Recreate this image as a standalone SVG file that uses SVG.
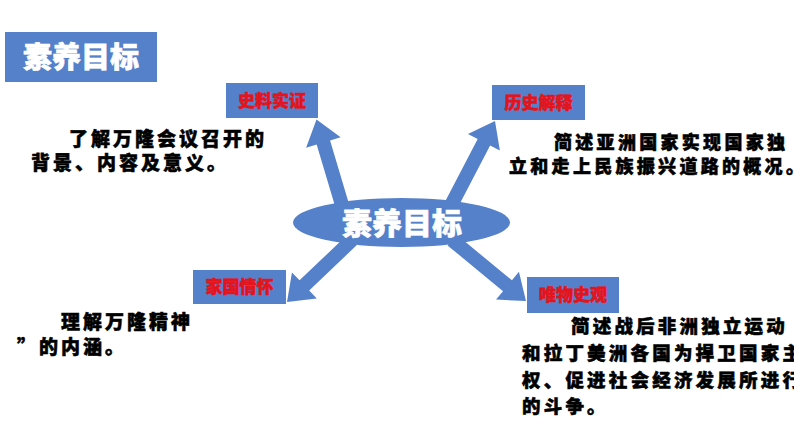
<svg xmlns="http://www.w3.org/2000/svg" width="794" height="447" viewBox="0 0 794 447">
<style>
.blue{fill:#5580CA}
.lbl{font-family:"Noto Sans CJK SC","Noto Sans",sans-serif;font-weight:900;font-size:17px;fill:#E3141B;stroke:#E3141B;stroke-width:0.5px;text-anchor:middle}
.big{font-family:"Noto Sans CJK SC","Noto Sans",sans-serif;font-weight:900;fill:#FFFFFF;stroke:#FFFFFF;stroke-width:0.6px;text-anchor:middle}
.body{font-family:"Noto Sans CJK SC","Noto Sans",sans-serif;font-weight:900;fill:#000000;stroke:#000000;stroke-width:0.55px}
</style>
<rect width="794" height="447" fill="#FFFFFF"/>
<g id="title">
<rect class="blue" x="5" y="32" width="152" height="50"/>
<text class="big" x="81" y="68" font-size="29">素养目标</text>
</g>
<g id="connectors">
<polygon class="blue" points="351.71,213.00 330.07,140.50 340.61,137.35 316.5,119.5 306.11,147.65 316.65,144.50 338.29,217.00"/>
<polygon class="blue" points="452.21,218.24 490.11,145.52 499.86,150.60 495,121 467.94,133.96 477.69,139.05 439.79,211.76"/>
<polygon class="blue" points="347.17,234.94 299.54,280.37 291.95,272.42 287,302 316.79,298.46 309.20,290.51 356.83,245.07"/>
<polygon class="blue" points="447.55,245.40 503.03,291.13 496.03,299.62 526,301 518.93,271.84 511.93,280.33 456.45,234.60"/>
</g>
<g id="center">
<ellipse class="blue" cx="401.5" cy="222.5" rx="108.5" ry="24.5"/>
<text class="big" x="402" y="234" font-size="30">素养目标</text>
</g>
<g id="node-shiliao">
<rect class="blue" x="226" y="83" width="92" height="35"/>
<text class="lbl" x="272" y="106.5">史料实证</text>
</g>
<g id="node-lishi">
<rect class="blue" x="492" y="85" width="93" height="35"/>
<text class="lbl" x="538.5" y="108.5">历史解释</text>
</g>
<g id="node-jiaguo">
<rect class="blue" x="193" y="270" width="93" height="34"/>
<text class="lbl" x="239.5" y="293">家国情怀</text>
</g>
<g id="node-weiwu">
<rect class="blue" x="527" y="277" width="92" height="36"/>
<text class="lbl" x="573" y="301">唯物史观</text>
</g>
<g id="text-shiliao">
<text class="body" font-size="19" letter-spacing="3" x="69" y="146">了解万隆会议召开的</text>
<text class="body" font-size="19" letter-spacing="3" x="31" y="170">背景、内容及意义。</text>
</g>
<g id="text-lishi">
<text class="body" font-size="18" letter-spacing="3.3" x="554" y="149">简述亚洲国家实现国家独</text>
<text class="body" font-size="18" letter-spacing="3.3" x="509" y="173">立和走上民族振兴道路的概况。</text>
</g>
<g id="text-jiaguo">
<text class="body" font-size="19" letter-spacing="3" x="61" y="329">理解万隆精神</text>
<text class="body" font-size="19" letter-spacing="3" x="17" y="354">”的内涵。</text>
</g>
<g id="text-weiwu">
<text class="body" font-size="18.5" letter-spacing="3.2" x="571" y="333">简述战后非洲独立运动</text>
<text class="body" font-size="18.5" letter-spacing="3.2" x="522" y="360">和拉丁美洲各国为捍卫国家主</text>
<text class="body" font-size="18.5" letter-spacing="3.2" x="522" y="387">权、促进社会经济发展所进行</text>
<text class="body" font-size="18.5" letter-spacing="3.2" x="522" y="413">的斗争。</text>
</g>
</svg>
